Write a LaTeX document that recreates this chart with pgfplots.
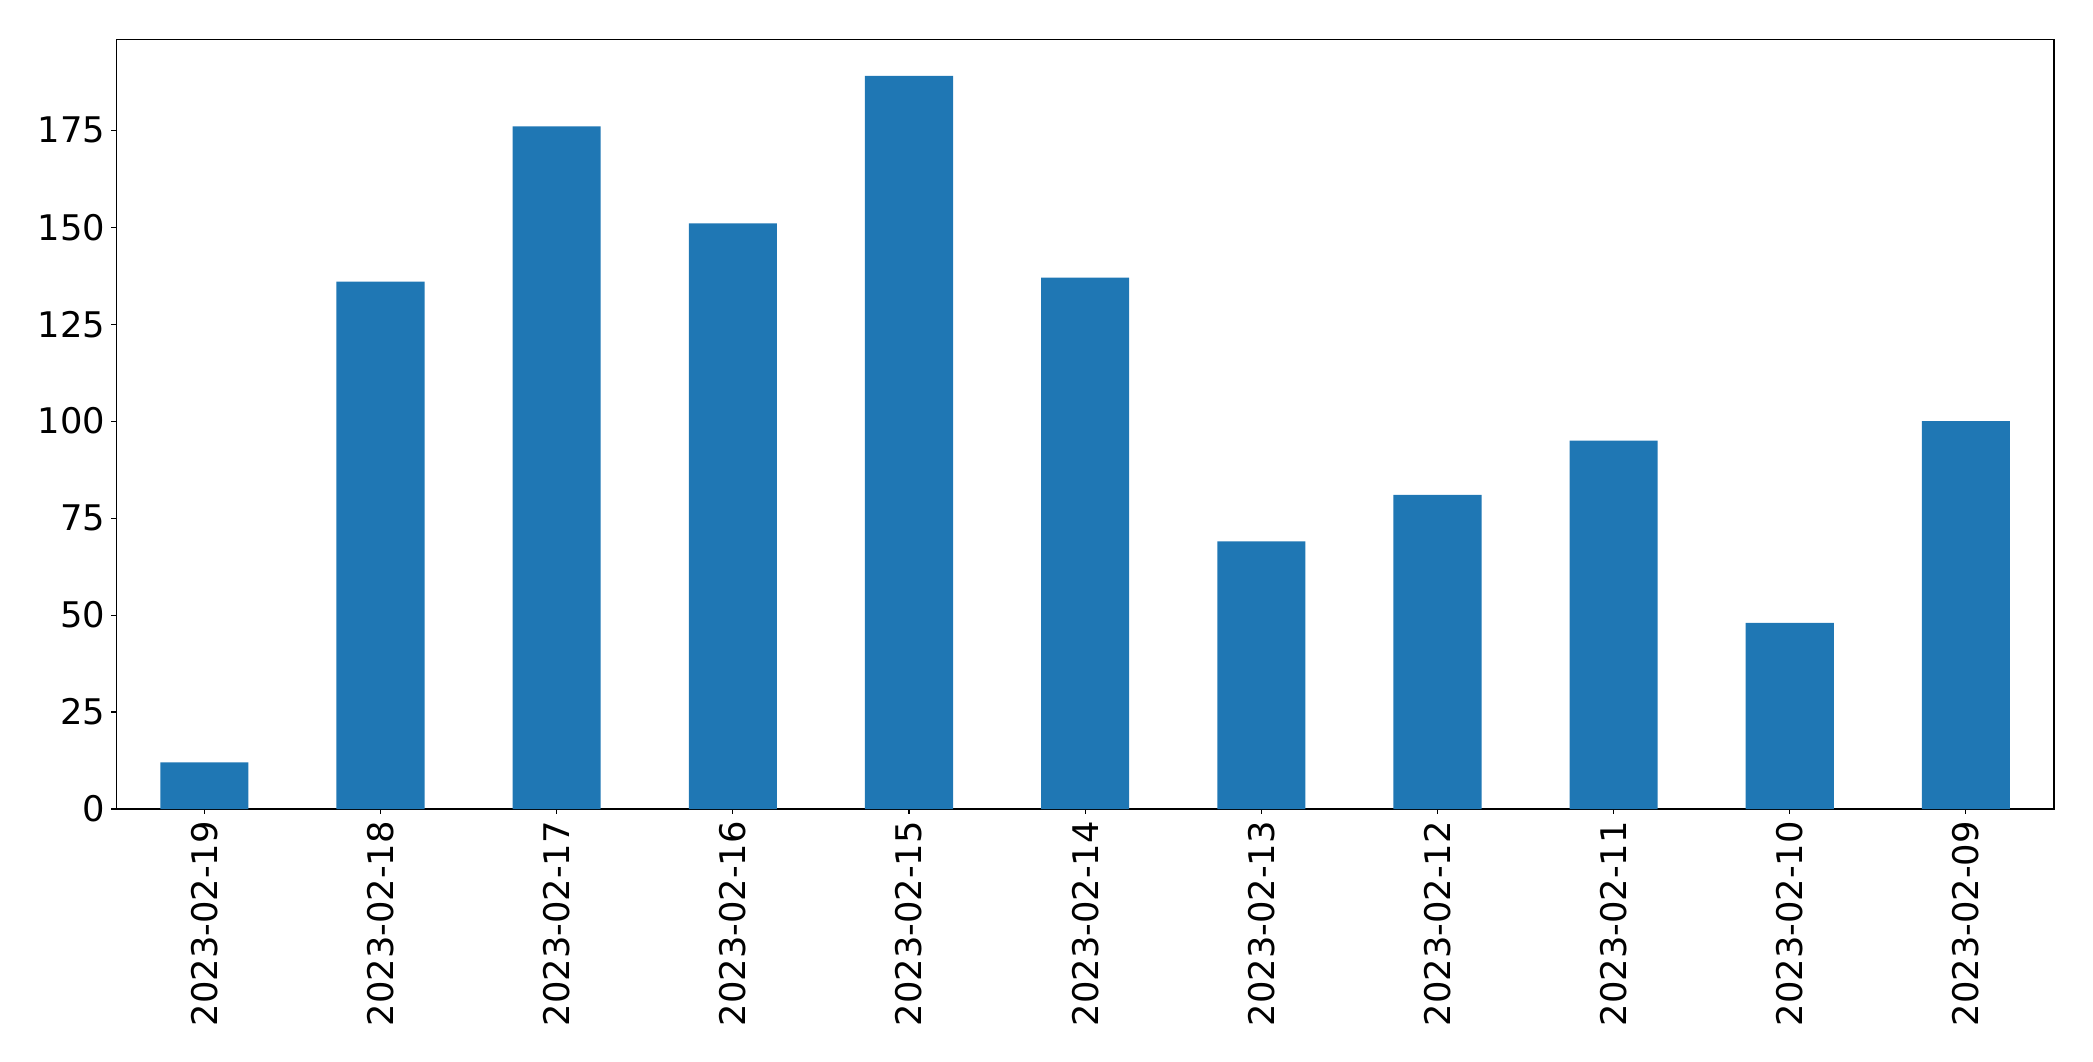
\documentclass[border=0pt]{standalone}
\usepackage{fontspec}
\setmainfont{DejaVu Sans}
\usepackage{pgfplots}
\pgfplotsset{compat=1.18}
\definecolor{tabblue}{HTML}{1F77B4}
\begin{document}
\begin{tikzpicture}
\begin{axis}[
  scale only axis,
  width=1937.7pt, height=769.7pt,
  xmin=-0.5, xmax=10.5,
  ymin=0, ymax=198.45,
  ytick={0,25,50,75,100,125,150,175},
  xtick={0,1,2,3,4,5,6,7,8,9,10},
  xticklabels={2023-02-19,2023-02-18,2023-02-17,2023-02-16,2023-02-15,2023-02-14,2023-02-13,2023-02-12,2023-02-11,2023-02-10,2023-02-09},
  tick align=outside,
  major tick length=4.86pt,
  tick style={line width=1.1pt, black},
  axis line style={line width=1.1pt},
  xtick pos=bottom, ytick pos=left,
  /pgf/number format/assume math mode=true,
  tick label style={font=\fontsize{35.3}{42}\selectfont},
  xticklabel style={rotate=90, anchor=east, inner sep=7pt},
  yticklabel style={inner sep=6pt},
  ybar, bar width=0.5,
]
\addplot[draw=none, fill=tabblue] coordinates {
  (0,12) (1,136) (2,176) (3,151) (4,189) (5,137) (6,69) (7,81) (8,95) (9,48) (10,100)
};
\end{axis}
\path ([shift={(-116.3pt,-252pt)}]current axis.south west) rectangle ([shift={(39pt,39.3pt)}]current axis.north east);
\end{tikzpicture}
\end{document}
